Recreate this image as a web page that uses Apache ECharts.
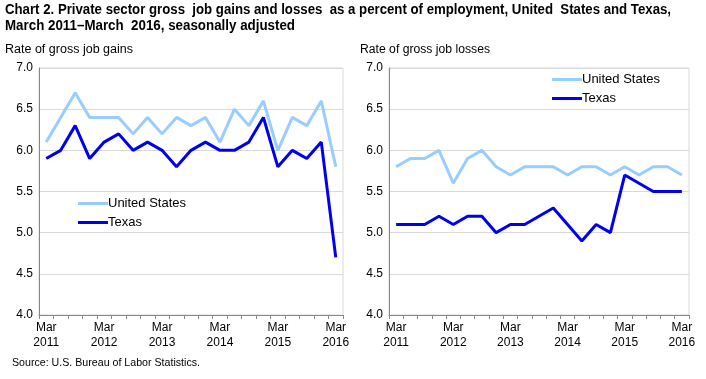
<!DOCTYPE html>
<html><head><meta charset="utf-8">
<script src="https://cdn.jsdelivr.net/npm/echarts@6/dist/echarts.min.js"></script>
<style>html,body{margin:0;padding:0;background:#fff}#c{width:706px;height:379px}</style>
</head><body><div id="c"></div>
<script>
const categories = ["Mar 2011","Jun 2011","Sep 2011","Dec 2011","Mar 2012","Jun 2012","Sep 2012","Dec 2012","Mar 2013","Jun 2013","Sep 2013","Dec 2013","Mar 2014","Jun 2014","Sep 2014","Dec 2014","Mar 2015","Jun 2015","Sep 2015","Dec 2015","Mar 2016"];
const usGains = [6.1,6.4,6.7,6.4,6.4,6.4,6.2,6.4,6.2,6.4,6.3,6.4,6.1,6.5,6.3,6.6,6.0,6.4,6.3,6.6,5.8];
const txGains = [5.9,6.0,6.3,5.9,6.1,6.2,6.0,6.1,6.0,5.8,6.0,6.1,6.0,6.0,6.1,6.4,5.8,6.0,5.9,6.1,4.7];
const usLosses = [5.8,5.9,5.9,6.0,5.6,5.9,6.0,5.8,5.7,5.8,5.8,5.8,5.7,5.8,5.8,5.7,5.8,5.7,5.8,5.8,5.7];
const txLosses = [5.1,5.1,5.1,5.2,5.1,5.2,5.2,5.0,5.1,5.1,5.2,5.3,5.1,4.9,5.1,5.0,5.7,5.6,5.5,5.5,5.5];
const seriesNames = ["United States","Texas"];
const titleLines = ["Chart 2. Private sector gross  job gains and losses  as a percent of employment, United  States and Texas,", "March 2011\u2013March  2016, seasonally adjusted"];
const panelTitles = ["Rate of gross job gains", "Rate of gross job losses"];
const sourceText = "Source: U.S. Bureau of Labor Statistics.";

const US_COLOR = '#99ccff', TX_COLOR = '#0000f0';
const reg = '"Liberation Sans",Arial,sans-serif';

const mctx = document.createElement('canvas').getContext('2d');
function fitText(text, x, y, font, targetW){
  mctx.font = font;
  const w = mctx.measureText(text).width;
  return {type:'text', x, y, scaleX: targetW / w, originX: 0,
    style:{text, font, fill:'#000', verticalAlign:'top', align:'left'}};
}

function xAxis(gi){
  return {type:'category', gridIndex:gi, data:categories, boundaryGap:true,
    axisLine:{lineStyle:{color:'#888',width:1}},
    axisTick:{show:true, interval:0, length:4, lineStyle:{color:'#888'}},
    axisLabel:{interval:3, color:'#000', fontFamily:reg, fontSize:12, lineHeight:15, margin:5,
      formatter:v=>v.replace(' ','\n')},
    splitLine:{show:false}};
}
function yAxis(gi){
  return {type:'value', gridIndex:gi, min:4, max:7, interval:0.5,
    axisLine:{show:true, lineStyle:{color:'#888'}}, axisTick:{show:false},
    axisLabel:{color:'#000', fontFamily:reg, fontSize:12, margin:6, formatter:v=>v.toFixed(1)},
    splitLine:{lineStyle:{color:'#d9d9d9'}}};
}
function line(name, data, gi, color){
  return {type:'line', name, data, xAxisIndex:gi, yAxisIndex:gi, symbol:'none',
    lineStyle:{color, width:3}, itemStyle:{color}};
}
const boldFont = 'bold 14px "Liberation Sans", Arial, sans-serif';
const normFont = '12px "Liberation Sans", Arial, sans-serif';
const srcFont = '11px "Liberation Sans", Arial, sans-serif';

const chart = echarts.init(document.getElementById('c'), null, {renderer:'canvas'});
chart.setOption({
  animation:false,
  graphic:[
    fitText(titleLines[0], 5, 3, boldFont, 666),
    fitText(titleLines[1], 5, 19, boldFont, 290),
    fitText(panelTitles[0], 5, 44, normFont, 128),
    fitText(panelTitles[1], 360, 44, normFont, 130),
    fitText(sourceText, 12, 357, srcFont, 188)
  ],
  grid:[
    {left:39, right:363, top:68, bottom:64, show:true, borderColor:'#d9d9d9', borderWidth:1},
    {left:389, right:17, top:68, bottom:64, show:true, borderColor:'#d9d9d9', borderWidth:1}
  ],
  legend:[
    {data:seriesNames, orient:'vertical', left:78, top:197, padding:0, itemWidth:30, itemHeight:3, itemGap:6, icon:'rect',
     textStyle:{fontFamily:reg, fontSize:13, color:'#000', padding:[0,0,0,-5]}},
    {data:seriesNames, orient:'vertical', left:552, top:73, padding:0, itemWidth:30, itemHeight:3, itemGap:6, icon:'rect',
     textStyle:{fontFamily:reg, fontSize:13, color:'#000', padding:[0,0,0,-5]}}
  ],
  xAxis:[xAxis(0), xAxis(1)],
  yAxis:[yAxis(0), yAxis(1)],
  series:[
    line(seriesNames[0], usGains, 0, US_COLOR),
    line(seriesNames[1], txGains, 0, TX_COLOR),
    line(seriesNames[0], usLosses, 1, US_COLOR),
    line(seriesNames[1], txLosses, 1, TX_COLOR)
  ]
});
</script></body></html>
